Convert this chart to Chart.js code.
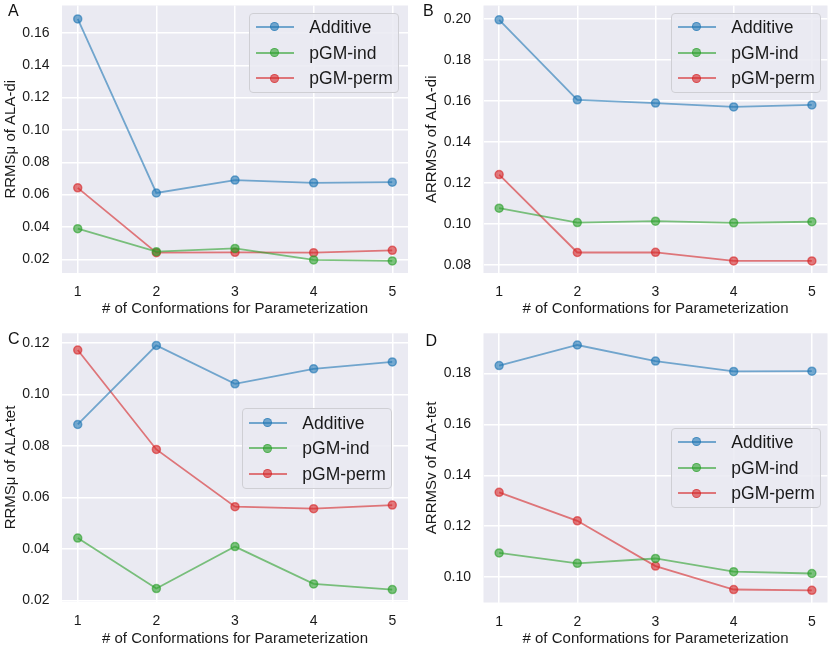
<!DOCTYPE html>
<html>
<head>
<meta charset="utf-8">
<script src="https://cdn.jsdelivr.net/npm/chart.js@4/dist/chart.umd.min.js"></script>
<style>
html,body{margin:0;padding:0;background:#ffffff;}
#wrap{position:relative;width:833px;height:648px;overflow:hidden;font-family:"Liberation Sans",Arial,sans-serif;}
.panel{position:absolute;}
.panel canvas{position:absolute;left:0;top:0;}
.letter{position:absolute;font-size:16px;line-height:16px;color:#111;}
.legend{position:absolute;box-sizing:border-box;border:1px solid #cfcfd4;border-radius:4px;background:rgba(234,234,242,0.85);}
.lrow{position:absolute;left:0;height:24px;width:100%;}
.lline{position:absolute;left:5.7px;top:11px;width:38px;height:2px;}
.lmark{position:absolute;left:19.5px;top:7.5px;width:9px;height:9px;border-radius:50%;box-sizing:border-box;border:1.5px solid;}
.ltext{position:absolute;left:59px;top:0;line-height:24px;font-size:17.5px;color:#1a1a1a;white-space:nowrap;}
</style>
</head>
<body>
<div id="wrap"></div>
<script>
// ---------- data ----------
const conformations = [1, 2, 3, 4, 5];
const seriesNames = ['Additive', 'pGM-ind', 'pGM-perm'];
const xTitle = '# of Conformations for Parameterization';

// Panel A: RRMSμ of ALA-di
const additiveA = [0.1687, 0.0610, 0.0690, 0.0673, 0.0677];
const pgmIndA   = [0.0389, 0.0247, 0.0267, 0.0196, 0.0190];
const pgmPermA  = [0.0642, 0.0241, 0.0243, 0.0241, 0.0255];
const yTicksA   = [0.02, 0.04, 0.06, 0.08, 0.10, 0.12, 0.14, 0.16];

// Panel B: ARRMSv of ALA-di
const additiveB = [0.1995, 0.1605, 0.1589, 0.1570, 0.1580];
const pgmIndB   = [0.1076, 0.1006, 0.1013, 0.1005, 0.1010];
const pgmPermB  = [0.1240, 0.0860, 0.0861, 0.0819, 0.0819];
const yTicksB   = [0.08, 0.10, 0.12, 0.14, 0.16, 0.18, 0.20];

// Panel C: RRMSμ of ALA-tet
const additiveC = [0.0883, 0.1190, 0.1041, 0.1099, 0.1126];
const pgmIndC   = [0.0442, 0.0246, 0.0409, 0.0264, 0.0242];
const pgmPermC  = [0.1172, 0.0786, 0.0564, 0.0556, 0.0570];
const yTicksC   = [0.02, 0.04, 0.06, 0.08, 0.10, 0.12];

// Panel D: ARRMSv of ALA-tet
const additiveD = [0.1831, 0.1912, 0.1849, 0.1808, 0.1809];
const pgmIndD   = [0.1095, 0.1054, 0.1073, 0.1021, 0.1014];
const pgmPermD  = [0.1333, 0.1221, 0.1043, 0.0951, 0.0948];
const yTicksD   = [0.10, 0.12, 0.14, 0.16, 0.18];

// ---------- styling ----------
const seriesRGB = ['31,119,180', '44,160,44', '214,39,40'];
const ALPHA = 0.6;
const FONT = '"Liberation Sans", Arial, sans-serif';

const panels = [
  { letter: 'A', yTitle: 'RRMSμ of ALA-di', series: [additiveA, pgmIndA, pgmPermA], yTicks: yTicksA,
    yMin: 0.0115, yMax: 0.1770,
    box: {left: 0, top: 0, w: 416, h: 324}, area: {left: 62, top: 2, right: 408, bottom: 273},
    yTitlePad: 1.5, xTitlePad: 5.7, xTickPad: 10.5,
    letterPos: {left: 8, top: 2.5}, legendPos: {left: 249.3, top: 12.7} },
  { letter: 'B', yTitle: 'ARRMSv of ALA-di', series: [additiveB, pgmIndB, pgmPermB], yTicks: yTicksB,
    yMin: 0.0760, yMax: 0.2065,
    box: {left: 416, top: 0, w: 417, h: 324}, area: {left: 67.5, top: 2, right: 413.7, bottom: 273},
    yTitlePad: 7, xTitlePad: 5.7, xTickPad: 10.5,
    letterPos: {left: 423, top: 2.5}, legendPos: {left: 671.3, top: 12.7} },
  { letter: 'C', yTitle: 'RRMSμ of ALA-tet', series: [additiveC, pgmIndC, pgmPermC], yTicks: yTicksC,
    yMin: 0.0195, yMax: 0.1237,
    box: {left: 0, top: 324, w: 416, h: 324}, area: {left: 62, top: 9.3, right: 408, bottom: 277.7},
    yTitlePad: 1.5, xTitlePad: 0, xTickPad: 11.5,
    letterPos: {left: 8, top: 330.5}, legendPos: {left: 242.3, top: 408.3} },
  { letter: 'D', yTitle: 'ARRMSv of ALA-tet', series: [additiveD, pgmIndD, pgmPermD], yTicks: yTicksD,
    yMin: 0.0900, yMax: 0.1958,
    box: {left: 416, top: 324, w: 417, h: 324}, area: {left: 67.5, top: 9.3, right: 413.7, bottom: 278.5},
    yTitlePad: 7, xTitlePad: 0, xTickPad: 11.5,
    letterPos: {left: 425.5, top: 332.5}, legendPos: {left: 671.3, top: 427.7} }
];

const wrap = document.getElementById('wrap');

panels.forEach(p => {
  const holder = document.createElement('div');
  holder.className = 'panel';
  Object.assign(holder.style, {left: p.box.left + 'px', top: p.box.top + 'px', width: p.box.w + 'px', height: p.box.h + 'px'});
  const cv = document.createElement('canvas');
  cv.width = p.box.w; cv.height = p.box.h;
  cv.style.width = p.box.w + 'px'; cv.style.height = p.box.h + 'px';
  holder.appendChild(cv);
  wrap.appendChild(holder);

  const datasets = p.series.map((vals, i) => ({
    label: seriesNames[i],
    data: conformations.map((c, j) => ({x: c, y: vals[j]})),
    borderColor: `rgba(${seriesRGB[i]},${ALPHA})`,
    backgroundColor: `rgba(${seriesRGB[i]},${ALPHA})`,
    pointBackgroundColor: `rgba(${seriesRGB[i]},${ALPHA})`,
    pointBorderColor: `rgba(${seriesRGB[i]},${ALPHA})`,
    borderWidth: 1.8,
    pointRadius: 4,
    pointBorderWidth: 1.5,
    tension: 0,
    fill: false
  }));

  const bgPlugin = {
    id: 'bg',
    beforeDraw(chart) {
      const {ctx, chartArea: a} = chart;
      ctx.save();
      ctx.fillStyle = '#eaeaf2';
      ctx.fillRect(a.left, a.top, a.right - a.left, a.bottom - a.top);
      ctx.restore();
    }
  };

  new Chart(cv, {
    type: 'line',
    data: {datasets},
    plugins: [bgPlugin],
    options: {
      responsive: false,
      animation: false,
      devicePixelRatio: 1,
      layout: {padding: {left: 0, top: p.area.top, right: p.box.w - p.area.right, bottom: 0}},
      plugins: {legend: {display: false}, tooltip: {enabled: false}},
      scales: {
        x: {
          type: 'linear', min: 0.8, max: 5.2,
          afterBuildTicks: s => { s.ticks = conformations.map(v => ({value: v})); },
          afterFit: s => { s.height = p.box.h - p.area.bottom; s.paddingLeft = 0; s.paddingRight = 0; s.paddingTop = 0; s.paddingBottom = 0; },
          grid: {color: '#ffffff', lineWidth: 1.5, drawTicks: false},
          border: {display: false},
          ticks: {padding: p.xTickPad, color: '#1a1a1a', font: {family: FONT, size: 14}, callback: v => String(v)},
          title: {display: true, text: xTitle, color: '#1a1a1a', font: {family: FONT, size: 15}, padding: {top: 0, bottom: p.xTitlePad}}
        },
        y: {
          type: 'linear', min: p.yMin, max: p.yMax,
          afterBuildTicks: s => { s.ticks = p.yTicks.map(v => ({value: v})); },
          afterFit: s => { s.width = p.area.left; s.paddingLeft = 0; s.paddingRight = 0; s.paddingTop = 0; s.paddingBottom = 0; },
          grid: {color: '#ffffff', lineWidth: 1.5, drawTicks: false},
          border: {display: false},
          ticks: {padding: 12.5, color: '#1a1a1a', font: {family: FONT, size: 14}, callback: v => Number(v).toFixed(2)},
          title: {display: true, text: p.yTitle, color: '#1a1a1a', font: {family: FONT, size: 15}, padding: {top: p.yTitlePad, bottom: 0}}
        }
      }
    }
  });

  // panel letter
  const L = document.createElement('div');
  L.className = 'letter';
  L.textContent = p.letter;
  L.style.left = p.letterPos.left + 'px';
  L.style.top = p.letterPos.top + 'px';
  wrap.appendChild(L);

  // legend
  const lg = document.createElement('div');
  lg.className = 'legend';
  Object.assign(lg.style, {left: p.legendPos.left + 'px', top: p.legendPos.top + 'px', width: '150px', height: '80.6px'});
  const rowCenters = [13.3, 39, 64.6];
  seriesNames.forEach((name, i) => {
    const row = document.createElement('div');
    row.className = 'lrow';
    row.style.top = (rowCenters[i] - 12) + 'px';
    const ln = document.createElement('div');
    ln.className = 'lline';
    ln.style.background = `rgba(${seriesRGB[i]},${ALPHA})`;
    const mk = document.createElement('div');
    mk.className = 'lmark';
    mk.style.background = `rgba(${seriesRGB[i]},${ALPHA})`;
    mk.style.borderColor = `rgba(${seriesRGB[i]},${ALPHA})`;
    const tx = document.createElement('div');
    tx.className = 'ltext';
    tx.textContent = name;
    row.appendChild(ln); row.appendChild(mk); row.appendChild(tx);
    lg.appendChild(row);
  });
  wrap.appendChild(lg);
});
</script>
</body>
</html>
